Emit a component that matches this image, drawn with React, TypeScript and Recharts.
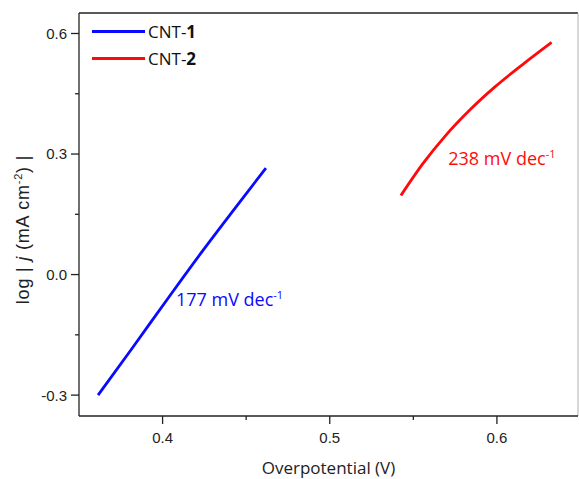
import React from "react";
import {
  LineChart,
  Line,
  XAxis,
  YAxis,
  ReferenceLine,
  ReferenceDot,
  Legend,
} from "recharts";

// values
const cnt1Voltage = [0.3614, 0.3817, 0.4036, 0.4236, 0.4435, 0.4618];
const cnt1LogJ = [-0.3, -0.184, -0.057, 0.057, 0.166, 0.265];
const cnt2Voltage = [0.5426, 0.5557, 0.5689, 0.5839, 0.5988, 0.6157, 0.6327];
const cnt2LogJ = [0.197, 0.276, 0.344, 0.41, 0.467, 0.524, 0.578];

const seriesNames = ["CNT-1", "CNT-2"];
const seriesColors = ["#0a0aff", "#ff0a0a"];

const slopeLabels = ["177 mV dec", "238 mV dec"];
const slopeAt = [
  { v: 0.408, logj: -0.078 },
  { v: 0.5709, logj: 0.272 },
];

const xMajorTicks = [0.4, 0.5, 0.6];
const xMinorTicks = [0.45, 0.55];
const yMajorTicks = [-0.3, 0, 0.3, 0.6];
const yMinorTicks = [-0.15, 0.15, 0.45];

const xDomain: [number, number] = [0.35, 0.6485];
const yDomain: [number, number] = [-0.352, 0.651];

const cnt1 = cnt1Voltage.map((v, i) => ({ v, logj: cnt1LogJ[i] }));
const cnt2 = cnt2Voltage.map((v, i) => ({ v, logj: cnt2LogJ[i] }));
const allSeries = [cnt1, cnt2];

const axisColor = "#222";
const tickFont = "'Liberation Sans', Arial, sans-serif";
const textFont = "'Open Sans', 'Noto Sans', sans-serif";

const isMajor = (value: number, majors: number[]) =>
  majors.some((m) => Math.abs(m - value) < 1e-6);

const XTick = (props: any) => {
  const { x, y, payload } = props;
  const major = isMajor(payload.value, xMajorTicks);
  return (
    <g>
      <line x1={x} x2={x} y1={y} y2={y + (major ? 8 : 4)} stroke={axisColor} strokeWidth={1.3} />
      {major && (
        <text x={x} y={y + 26.5} textAnchor="middle" fontFamily={tickFont} fontSize={15} fill={axisColor}>
          {payload.value.toFixed(1)}
        </text>
      )}
    </g>
  );
};

const YTick = (props: any) => {
  const { x, y, payload } = props;
  const major = isMajor(payload.value, yMajorTicks);
  return (
    <g>
      <line x1={x} x2={x - (major ? 8 : 4)} y1={y} y2={y} stroke={axisColor} strokeWidth={1.3} />
      {major && (
        <text x={x - 12} y={y} dy="0.36em" textAnchor="end" fontFamily={tickFont} fontSize={15} fill={axisColor}>
          {payload.value.toFixed(1)}
        </text>
      )}
    </g>
  );
};

const XTitle = (props: any) => {
  const { viewBox } = props;
  return (
    <text
      x={viewBox.x + viewBox.width / 2}
      y={viewBox.y + 57.5}
      textAnchor="middle"
      fontFamily={textFont}
      fontSize={17}
      fill={axisColor}
    >
      Overpotential (V)
    </text>
  );
};

const YTitle = (props: any) => {
  const { viewBox } = props;
  const cy = viewBox.y + viewBox.height / 2 + 15;
  return (
    <text
      transform={`translate(29, ${cy}) rotate(-90)`}
      textAnchor="middle"
      fontFamily={tickFont}
      fontSize={18}
      letterSpacing={0.8}
      fill={axisColor}
    >
      log | <tspan fontStyle="italic">j</tspan> (mA cm
      <tspan dy={-7} fontSize={11}>-2</tspan>
      <tspan dy={7}>) |</tspan>
    </text>
  );
};

const SlopeLabel = (props: any) => {
  const { viewBox, text, color } = props;
  return (
    <text x={viewBox.x} y={viewBox.y} fontFamily={textFont} fontSize={18} fill={color}>
      {text}
      <tspan dy={-7} fontSize={11}>-1</tspan>
    </text>
  );
};

const renderLegend = () => (
  <div style={{ fontFamily: textFont, fontSize: 17, color: "#111" }}>
    {seriesNames.map((name, i) => {
      const [prefix, num] = name.split("-");
      return (
        <div key={name} style={{ display: "flex", alignItems: "center", height: 27.3 }}>
          <span style={{ display: "inline-block", width: 53, height: 3, background: seriesColors[i] }} />
          <span style={{ marginLeft: 3, lineHeight: "17px" }}>
            {prefix}-<b>{num}</b>
          </span>
        </div>
      );
    })}
  </div>
);

const App: React.FC = () => {
  return (
    <div style={{ position: "absolute", left: 0, top: 0 }}>
      <LineChart width={579} height={479} margin={{ top: 13, right: 1, bottom: 0, left: 0 }}>
        <XAxis
          type="number"
          dataKey="v"
          domain={xDomain}
          allowDataOverflow
          ticks={[...xMajorTicks, ...xMinorTicks].sort((a, b) => a - b)}
          interval={0}
          tickLine={false}
          tickSize={0}
          tickMargin={0}
          tick={<XTick />}
          height={63}
          axisLine={{ stroke: axisColor, strokeWidth: 1.3 }}
          label={<XTitle />}
        />
        <YAxis
          type="number"
          dataKey="logj"
          domain={yDomain}
          allowDataOverflow
          ticks={[...yMajorTicks, ...yMinorTicks].sort((a, b) => a - b)}
          interval={0}
          tickLine={false}
          tickSize={0}
          tickMargin={0}
          tick={<YTick />}
          width={79}
          axisLine={{ stroke: axisColor, strokeWidth: 1.3 }}
          label={<YTitle />}
        />
        <ReferenceLine y={yDomain[1]} stroke={axisColor} strokeWidth={1.3} />
        <ReferenceLine x={xDomain[1]} stroke="#b0b0b0" strokeWidth={1} />
        {allSeries.map((data, i) => (
          <Line
            key={seriesNames[i]}
            data={data}
            dataKey="logj"
            name={seriesNames[i]}
            type="monotone"
            stroke={seriesColors[i]}
            strokeWidth={2.8}
            dot={false}
            isAnimationActive={false}
          />
        ))}
        {slopeAt.map((p, i) => (
          <ReferenceDot
            key={slopeLabels[i]}
            x={p.v}
            y={p.logj}
            r={0}
            stroke="none"
            fill="none"
            label={<SlopeLabel text={slopeLabels[i]} color={seriesColors[i]} />}
          />
        ))}
        <Legend
          layout="vertical"
          align="center"
          verticalAlign="middle"
          wrapperStyle={{ left: 92, top: 17.4, width: "auto", height: "auto" }}
          content={renderLegend}
        />
      </LineChart>
    </div>
  );
};

export default App;
